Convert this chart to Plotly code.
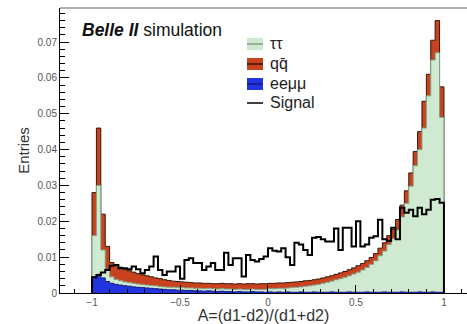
import numpy as np
import plotly.graph_objects as go

# Bin edges of the histograms: 80 bins from -1 to 1
bin_lo, bin_hi, n_bins = -1.0, 1.0, 80

# Bin contents in units of 1e-4 entries
eemumu = [45, 52, 42, 32, 27, 24, 22, 20, 19, 17,
          16, 15, 14, 13, 12, 11, 10, 9, 9, 8,
          8, 7, 7, 6, 6, 5, 6, 5, 4, 5,
          4, 4, 3, 4, 3, 3, 4, 3, 3, 2,
          3, 2, 3, 2, 3, 2, 2, 3, 2, 2,
          3, 2, 2, 2, 3, 2, 2, 2, 3, 2,
          2, 2, 3, 2, 2, 2, 3, 2, 2, 2,
          3, 2, 2, 2, 3, 2, 2, 3, 2, 2]

tautau = [115, 248, 78, 33, 18, 14, 12, 11, 10, 10,
          9, 8, 8, 8, 8, 7, 7, 7, 7, 7,
          7, 7, 7, 7, 7, 7, 7, 7, 7, 7,
          7, 7, 7, 7, 7, 7, 7, 7, 7, 8,
          9, 10, 10, 11, 11, 13, 14, 14, 17, 18,
          19, 22, 25, 28, 30, 35, 38, 42, 45, 51,
          56, 62, 68, 78, 88, 102, 114, 133, 150, 174,
          209, 248, 296, 353, 397, 458, 548, 647, 668, 488]

qqbar = [120, 160, 100, 65, 40, 40, 38, 35, 33, 31,
         29, 28, 26, 24, 22, 22, 20, 19, 17, 17,
         16, 16, 15, 15, 15, 15, 14, 14, 15, 15,
         15, 15, 15, 15, 15, 16, 15, 15, 16, 16,
         15, 15, 15, 15, 15, 15, 15, 15, 15, 15,
         15, 15, 15, 15, 15, 15, 16, 16, 17, 17,
         18, 18, 19, 19, 20, 21, 23, 25, 26, 29,
         33, 35, 37, 40, 50, 75, 60, 55, 90, 85]

signal = [44, 50, 57, 64, 76, 78, 69, 69, 66, 74,
          66, 55, 64, 74, 102, 64, 50, 60, 60, 74,
          40, 92, 97, 84, 84, 64, 74, 84, 64, 64,
          112, 78, 97, 97, 46, 106, 92, 88, 95, 102,
          125, 118, 116, 125, 100, 78, 140, 135, 120, 106,
          154, 156, 150, 144, 144, 180, 120, 182, 182, 130,
          200, 130, 135, 154, 158, 204, 150, 145, 182, 150,
          238, 224, 232, 214, 238, 220, 232, 260, 262, 252]

unit = 1e-4
x_tickvals = [-1, -0.5, 0, 0.5, 1]
x_ticktext = ["\u22121", "\u22120.5", "0", "0.5", "1"]

legend_labels = ["\u03c4\u03c4", "qq\u0304", "ee\u03bc\u03bc", "Signal"]

edges = np.linspace(bin_lo, bin_hi, n_bins + 1)


def step_xy(vals):
    v = np.asarray(vals, dtype=float)
    x = np.concatenate([[edges[0]], edges, [edges[-1]]])
    y = np.concatenate([[0.0], v, [v[-1]], [0.0]])
    return x, y


b = np.array(eemumu) * unit
t = np.array(tautau) * unit
q = np.array(qqbar) * unit
s = np.array(signal) * unit

stack_b = b
stack_t = b + t
stack_q = b + t + q

# styles: (fill, line)
sty_tau = ("#d0e9d1", "#7fa487")
sty_qq = ("#c9421f", "#3a1608")
sty_ee = ("#2233e0", "#141a80")
sty_sig = (None, "black")

fig = go.Figure()

x, y = step_xy(stack_q)
fig.add_trace(go.Scatter(x=x, y=y, mode="lines", line=dict(shape="hv", color=sty_qq[1], width=1),
                         fill="tozeroy", fillcolor=sty_qq[0], name=legend_labels[1], showlegend=False))
x, y = step_xy(stack_t)
fig.add_trace(go.Scatter(x=x, y=y, mode="lines", line=dict(shape="hv", color=sty_tau[1], width=1),
                         fill="tozeroy", fillcolor=sty_tau[0], name=legend_labels[0], showlegend=False))
x, y = step_xy(stack_b)
fig.add_trace(go.Scatter(x=x, y=y, mode="lines", line=dict(shape="hv", color=sty_ee[1], width=1),
                         fill="tozeroy", fillcolor=sty_ee[0], name=legend_labels[2], showlegend=False))
x, y = step_xy(s)
fig.add_trace(go.Scatter(x=x, y=y, mode="lines", line=dict(shape="hv", color=sty_sig[1], width=2),
                         name=legend_labels[3], showlegend=False))

font_family = "Liberation Sans, Arial, sans-serif"

# plot-area geometry in pixels (for placing the hand-drawn legend)
W, H = 467, 324
ml, mr, mt, mb = 60, 0, 8, 31
pw, ph = W - ml - mr, H - mt - mb


def px(xp):
    return (xp - ml) / pw


def py(yp):
    return 1 - (yp - mt) / ph


shapes = [dict(type="line", xref="paper", yref="paper", x0=0, x1=1, y0=1, y1=1,
               line=dict(color="#999", width=1.5))]
annotations = [dict(xref="paper", yref="paper", x=px(80), y=py(30), xanchor="left", yanchor="middle",
                    text="<b><i>Belle II</i></b> simulation", showarrow=False,
                    font=dict(size=17.5, color="#111"))]

row_y = [44, 64, 84, 103]
styles = [sty_tau, sty_qq, sty_ee, sty_sig]
for lab, ry, (fc, lc) in zip(legend_labels, row_y, styles):
    if fc is not None:
        shapes.append(dict(type="rect", xref="paper", yref="paper",
                           x0=px(247), x1=px(263), y0=py(ry - 6), y1=py(ry + 6),
                           fillcolor=fc, line=dict(width=0)))
    shapes.append(dict(type="line", xref="paper", yref="paper",
                       x0=px(247), x1=px(263), y0=py(ry), y1=py(ry),
                       line=dict(color=lc, width=1.5)))
    annotations.append(dict(xref="paper", yref="paper", x=px(268), y=py(ry), xanchor="left",
                            yanchor="middle", text=lab, showarrow=False,
                            font=dict(size=16, color="#222")))

fig.update_layout(
    width=W, height=H,
    margin=dict(l=ml, r=mr, t=mt, b=mb),
    paper_bgcolor="white", plot_bgcolor="white",
    font=dict(family=font_family, color="#333"),
    showlegend=False,
    xaxis=dict(range=[-1.182, 1.131], showline=True, linecolor="black", linewidth=1,
               ticks="inside", ticklen=8, tickcolor="black",
               tickvals=x_tickvals, ticktext=x_ticktext,
               minor=dict(ticks="inside", dtick=0.1, ticklen=4, tickcolor="black"),
               showgrid=False, zeroline=False,
               tickfont=dict(size=10, color="#555"),
               title=dict(text="A=(d1-d2)/(d1+d2)", font=dict(size=16, color="#333"), standoff=3)),
    yaxis=dict(range=[0, 0.0795], showline=True, linecolor="black", linewidth=1,
               ticks="inside", ticklen=9, tickcolor="black", dtick=0.01,
               minor=dict(ticks="inside", dtick=0.002, ticklen=5, tickcolor="black"),
               showgrid=False, zeroline=False,
               tickfont=dict(size=10, color="#555"),
               title=dict(text="Entries", font=dict(size=15, color="#333"), standoff=4)),
    shapes=shapes,
    annotations=annotations,
)

fig.write_html("out.html")
